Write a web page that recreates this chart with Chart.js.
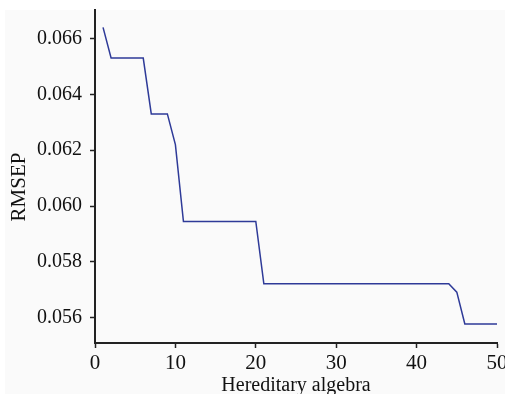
<!DOCTYPE html>
<html>
<head>
<meta charset="utf-8">
<script src="https://cdn.jsdelivr.net/npm/chart.js@4.4.1/dist/chart.umd.min.js"></script>
<style>
html,body{margin:0;padding:0;background:#ffffff;}
#wrap{width:505px;height:394px;position:relative;}
</style>
</head>
<body>
<div id="wrap"><canvas id="c" width="505" height="394"></canvas></div>
<script>
const generations = [1,2,3,4,5,6,7,8,9,10,11,12,13,14,15,16,17,18,19,20,21,22,23,24,25,26,27,28,29,30,31,32,33,34,35,36,37,38,39,40,41,42,43,44,45,46,47,48,49,50];
const rmsep = [0.0664,0.0653,0.0653,0.0653,0.0653,0.0653,0.0633,0.0633,0.0633,0.0622,
  0.05945,0.05945,0.05945,0.05945,0.05945,0.05945,0.05945,0.05945,0.05945,0.05945,
  0.05722,0.05722,0.05722,0.05722,0.05722,0.05722,0.05722,0.05722,0.05722,0.05722,
  0.05722,0.05722,0.05722,0.05722,0.05722,0.05722,0.05722,0.05722,0.05722,0.05722,
  0.05722,0.05722,0.05722,0.05722,0.05692,0.05578,0.05578,0.05578,0.05578,0.05578];
const xTickValues = [0,10,20,30,40,50];
const yTickValues = [0.056,0.058,0.060,0.062,0.064,0.066];
const xTitle = 'Hereditary algebra';
const yTitle = 'RMSEP';

const FONT = "'Liberation Serif','Times New Roman',serif";

const bgPlugin = {
  id: 'bg',
  beforeDraw(chart) {
    const ctx = chart.ctx;
    ctx.save();
    ctx.fillStyle = '#fafafa';
    ctx.fillRect(5, 10, chart.width - 5, chart.height - 10);
    ctx.restore();
  }
};

new Chart(document.getElementById('c'), {
  type: 'line',
  data: {
    datasets: [{
      data: generations.map((g, i) => ({x: g, y: rmsep[i]})),
      borderColor: '#2e3a98',
      borderWidth: 1.5,
      pointRadius: 0,
      tension: 0,
      fill: false,
      clip: false
    }]
  },
  options: {
    responsive: false,
    animation: false,
    layout: {padding: {top: 10, right: 8, left: 0, bottom: 0}},
    plugins: {legend: {display: false}, tooltip: {enabled: false}},
    scales: {
      x: {
        type: 'linear',
        min: 0, max: 50,
        afterBuildTicks: s => { s.ticks = xTickValues.map(v => ({value: v})); },
        afterFit: s => { s.height = 51; s.paddingLeft = 0; s.paddingRight = 0; },
        grid: {drawOnChartArea: false, drawTicks: true, tickLength: 5, tickColor: '#222', tickWidth: 1.5},
        border: {display: true, color: '#222', width: 2},
        ticks: {color: '#111', font: {family: FONT, size: 21}, padding: 3, maxRotation: 0},
        title: {display: true, text: xTitle, color: '#111', font: {family: FONT, size: 20, lineHeight: 1.0}, padding: {top: 0, bottom: -2}}
      },
      y: {
        min: 0.0551, max: 0.06702,
        afterBuildTicks: s => { s.ticks = yTickValues.map(v => ({value: v})); },
        afterFit: s => { s.width = 95; s.paddingTop = 0; s.paddingBottom = 0; },
        grid: {drawOnChartArea: false, drawTicks: true, tickLength: 5, tickColor: '#222', tickWidth: 1.5},
        border: {display: true, color: '#222', width: 2},
        ticks: {color: '#111', font: {family: FONT, size: 20}, padding: 8, callback: v => Number(v).toFixed(3)},
        title: {display: true, text: yTitle + '    ', color: '#111', font: {family: FONT, size: 21, lineHeight: 1.2}, padding: {top: 7, bottom: 0}}
      }
    }
  },
  plugins: [bgPlugin]
});
</script>
</body>
</html>
